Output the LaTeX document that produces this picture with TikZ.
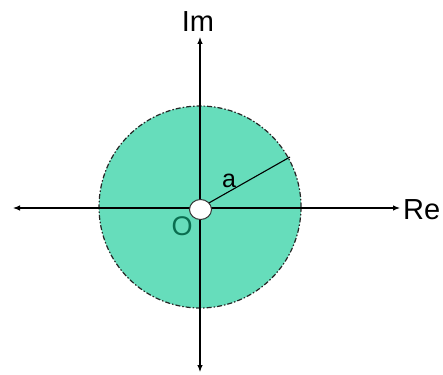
\documentclass[tikz,border=0pt]{standalone}
\usepackage{fontspec}
\setmainfont{Liberation Sans}
\usetikzlibrary{arrows.meta,shapes.geometric}
\definecolor{discfill}{RGB}{102,221,187}
\definecolor{olabel}{RGB}{10,110,80}
\tikzset{
  axisline/.style={line width=1.1pt, draw=black, -{Latex[length=7pt,width=5.5pt]}},
  disc/.style={fill=discfill, draw=black!85, line width=1.2pt, dash pattern=on 5pt off 2pt on 1.5pt off 2pt},
  lbl/.style={inner sep=0pt, anchor=base, font=\fontsize{29}{30}\selectfont},
  hole/.style={ellipse, draw=black!80, fill=white, line width=1pt, minimum width=22pt, minimum height=20pt, inner sep=0pt}
}
\begin{document}
\begin{tikzpicture}[x=1pt,y=-1pt]
\useasboundingbox (0,0) rectangle (443,374);
\coordinate (C) at (200,208);
\coordinate (L) at (13,208);
\coordinate (R) at (400,208);
\coordinate (T) at (200,37);
\coordinate (B) at (200,372);
\draw[disc] (200,207) circle[radius=101];
\draw[axisline] (C) -- (L);
\draw[axisline] (C) -- (R);
\draw[axisline] (C) -- (T);
\draw[axisline] (C) -- (B);
\coordinate (P) at (290,157);
\draw[line width=1.1pt] (C) -- (P);
\node[hole] (h) at (200.5,209.5) {};
\node[lbl] (im) at (198,32) {Im};
\node[lbl, anchor=base west] (re) at (403,219) {Re};
\node[lbl, font=\fontsize{25}{26}\selectfont] (a) at (229,187) {a};
\node[lbl, font=\fontsize{27}{28}\selectfont, text=olabel] (o) at (182,235) {O};
\end{tikzpicture}
\end{document}
